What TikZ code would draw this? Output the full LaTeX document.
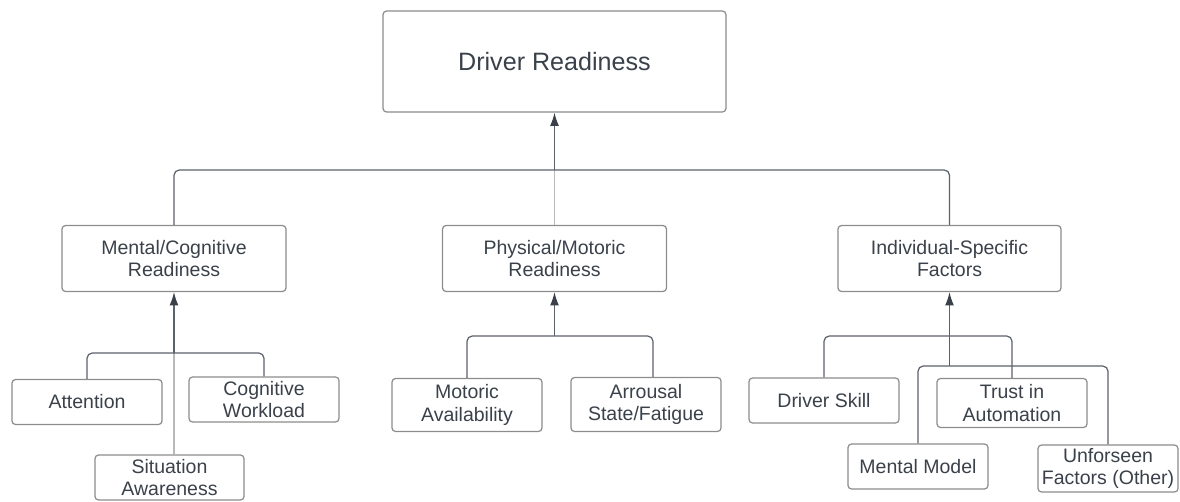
\documentclass[tikz,border=0pt]{standalone}
\usepackage{fontspec}
\setmainfont{Liberation Sans}
\definecolor{inkgray}{RGB}{58, 65, 74}
\definecolor{wiregray}{RGB}{92, 98, 108}
\definecolor{edgegray}{RGB}{140, 140, 140}
\definecolor{palegray}{RGB}{185, 185, 185}
\usepackage{tikz}
\usetikzlibrary{arrows.meta, positioning, calc}

\tikzset{
  goalbox/.style={draw=edgegray, line width=0.7pt, rounded corners=2pt, minimum width=6.86cm, minimum height=2.02cm, text=inkgray, font=\fontsize{14.3}{17}\selectfont},
  catbox/.style={draw=edgegray, line width=0.7pt, rounded corners=2pt, minimum width=4.48cm, minimum height=1.32cm, align=center, text=inkgray, font=\fontsize{11.1}{13}\selectfont},
  leafbox/.style={draw=edgegray, line width=0.7pt, rounded corners=2pt, minimum width=3cm, minimum height=0.9cm, inner sep=1pt, align=center, text=inkgray, font=\fontsize{11.1}{13}\selectfont},
  link/.style={draw=wiregray, line width=0.7pt, rounded corners=3pt},
  paleline/.style={draw=palegray, line width=0.6pt},
  uparrow/.style={draw=wiregray, line width=0.7pt, -{Latex[length=7.5pt, width=5pt, color=inkgray]}}
}

\begin{document}
\begin{tikzpicture}[x=0.02cm, y=-0.02cm]
  \useasboundingbox (0,0) rectangle (1180,501);

  % Goal
  \node[goalbox] (goal) at (554.5, 61.5) {Driver Readiness};

  % Categories
  \node[catbox] (mental) at (174, 258.5) {Mental/Cognitive\\Readiness};
  \node[catbox] (physical) at (554.5, 258.5) {Physical/Motoric\\Readiness};
  \node[catbox, minimum width=4.46cm] (individual) at (949.5, 258.5) {Individual-Specific\\Factors};

  % Mental leaves
  \node[leafbox] (attention) at (87, 402) {Attention};
  \node[leafbox] (workload) at (264, 399.5) {Cognitive\\Workload};
  \node[leafbox, minimum width=2.98cm] (awareness) at (169.5, 477.5) {Situation\\Awareness};

  % Physical leaves
  \node[leafbox, minimum height=1.06cm] (motoric) at (467, 405) {Motoric\\Availability};
  \node[leafbox, minimum height=1.08cm] (arousal) at (646, 404.5) {Arrousal\\State/Fatigue};

  % Individual leaves
  \node[leafbox] (skill) at (824, 400.5) {Driver Skill};
  \node[leafbox, minimum height=0.98cm] (trust) at (1012, 403) {Trust in\\Automation};
  \node[leafbox, minimum width=2.8cm] (model) at (918, 466.5) {Mental Model};
  \node[leafbox, minimum width=2.8cm, minimum height=0.94cm] (unforeseen) at (1108, 468.5) {Unforseen\\Factors (Other)};

  % Junctions
  \coordinate (topJoin) at (554.5, 170);
  \coordinate (mentalJoin) at (174, 353);
  \coordinate (physicalJoin) at (554.5, 336);
  \coordinate (arousalTop) at ($(arousal.north)+(7,0)$);
  \coordinate (indivJoin) at (949.5, 336);
  \coordinate (indivJoinB) at (949.5, 366);

  % Top level
  \draw[paleline] (topJoin) -- (physical.north);
  \draw[link] (mental.north) |- (topJoin) -| (individual.north);
  \draw[uparrow] (topJoin) -- (goal.south);

  % Mental branch
  \draw[paleline] (mentalJoin) -- (mentalJoin |- awareness.north);
  \draw[link] (attention.north) |- (mentalJoin) -| (workload.north);
  \draw[uparrow] (mentalJoin) -- (mental.south);

  % Physical branch
  \draw[link] (motoric.north) |- (physicalJoin) -| (arousalTop);
  \draw[uparrow] (physicalJoin) -- (physical.south);

  % Individual branch
  \draw[link] (skill.north) |- (indivJoin) -| (trust.north);
  \draw[link] (model.north) |- (indivJoinB) -| (unforeseen.north);
  \draw[link] (indivJoinB) -- (indivJoin);
  \draw[uparrow] (indivJoin) -- (individual.south);
\end{tikzpicture}
\end{document}
